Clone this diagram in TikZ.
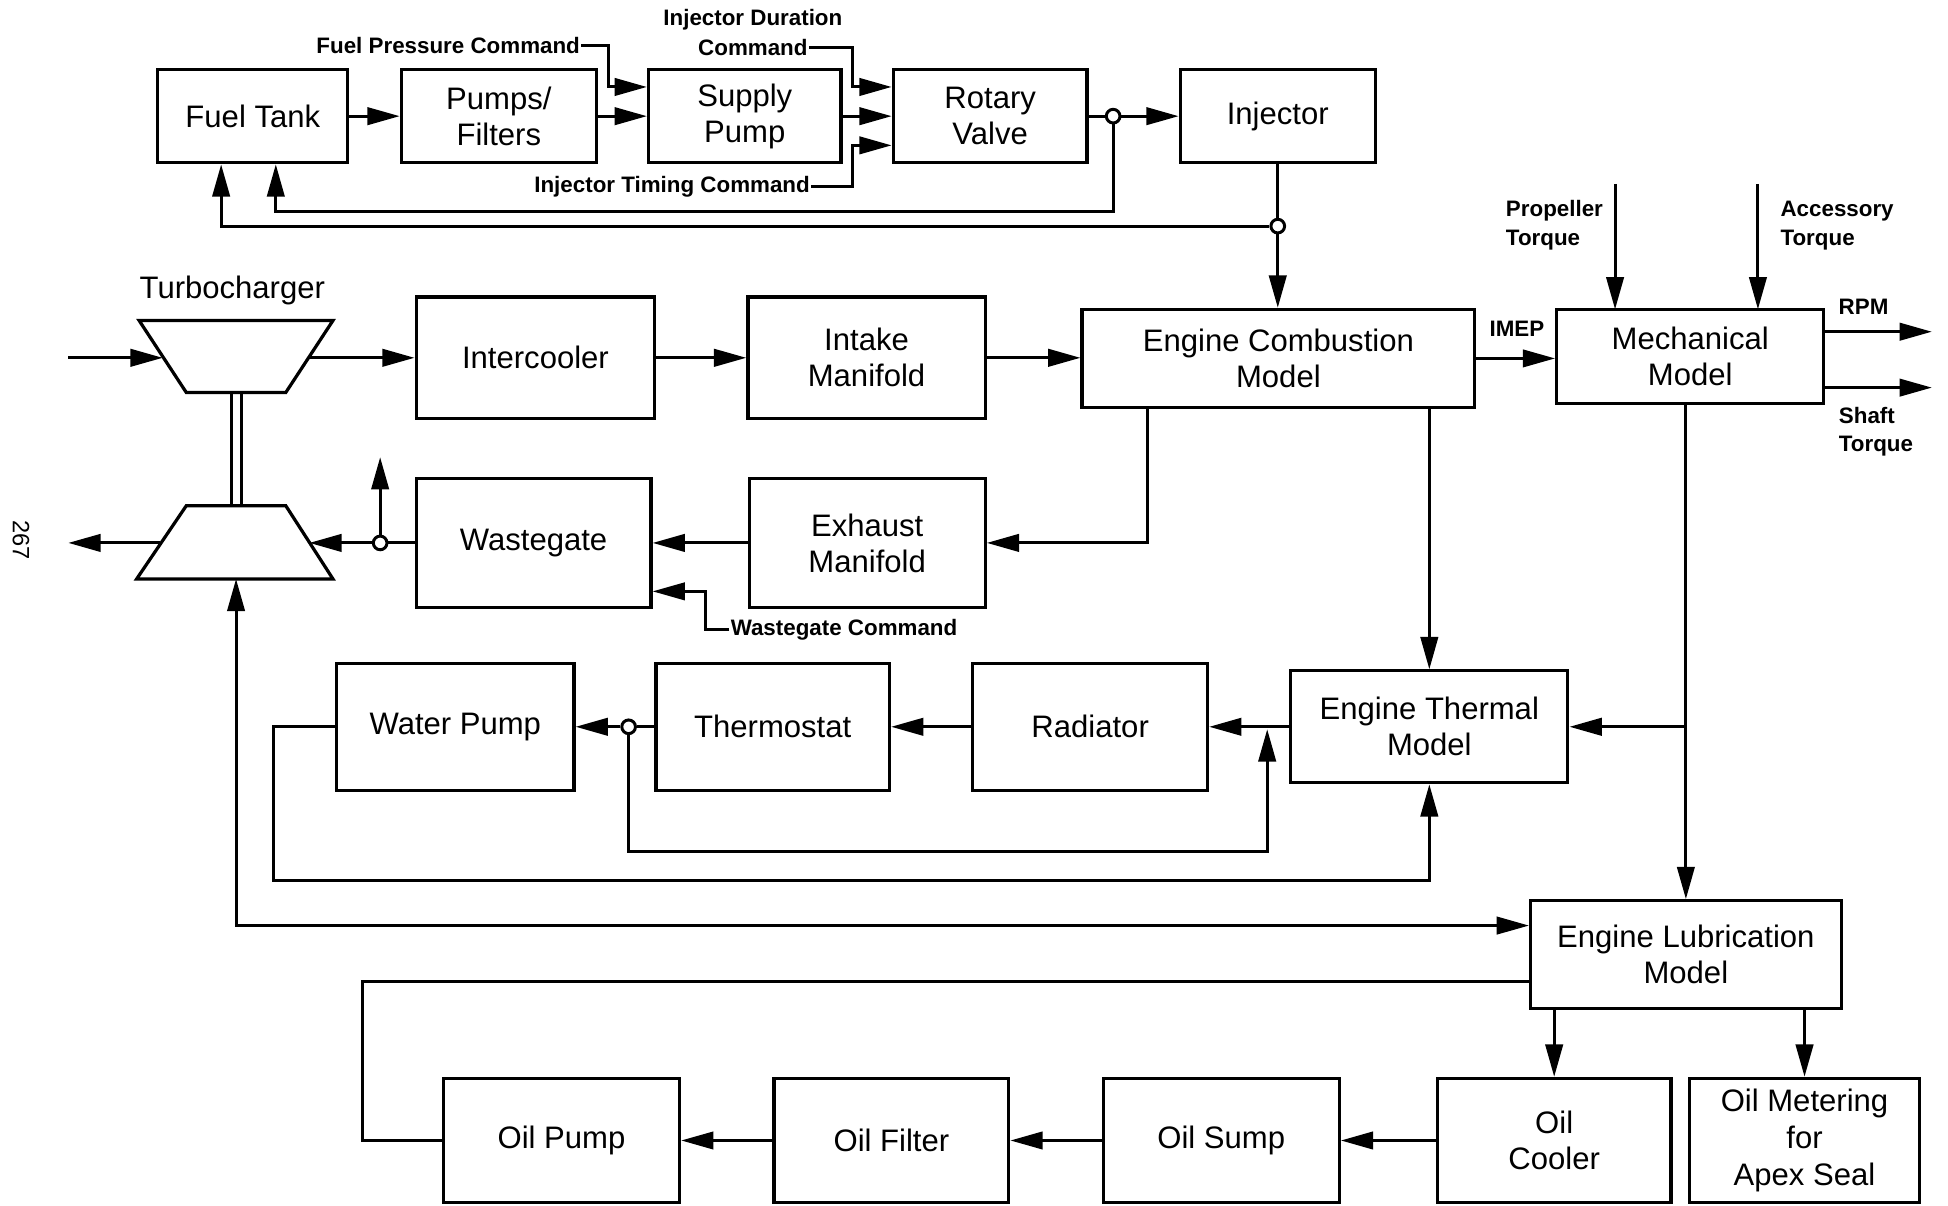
\documentclass[tikz,border=0pt]{standalone}
\usepackage{fontspec}
\setmainfont{Liberation Sans}
\usetikzlibrary{arrows.meta,calc}
\begin{document}
\begin{tikzpicture}[x=1pt,y=-1pt,
  box/.style={draw, line width=2.6pt, inner sep=0pt, align=center, font=\fontsize{25}{29}\selectfont},
  txt/.style={inner sep=1pt, font=\fontsize{25}{29}\selectfont},
  lbl/.style={inner sep=1pt, font=\bfseries\fontsize{18}{23}\selectfont},
  arr/.style={line width=2.4pt, -{Triangle[length=26pt,width=14pt]}},
  arrb/.style={line width=2.4pt, {Triangle[length=26pt,width=14pt]}-{Triangle[length=26pt,width=14pt]}},
  ln/.style={line width=2.4pt},
  junc/.style={circle, draw, line width=2.4pt, fill=white, inner sep=0pt, minimum size=11pt}
]
\useasboundingbox (0,0) rectangle (1568,970);

% ---------- top row ----------
\node[box, minimum width=153pt, minimum height=75pt] (fuel) at (203.5,93.5) {Fuel Tank};
\node[box, minimum width=157pt, minimum height=75pt] (pumps) at (401.5,93.5) {Pumps/\\Filters};
\node[box, minimum width=155pt, minimum height=75pt] (supply) at (599.5,93.5) {Supply\\Pump};
\node[box, minimum width=156pt, minimum height=75pt] (rotary) at (797,93.5) {Rotary\\Valve};
\node[box, minimum width=157pt, minimum height=75pt] (injector) at (1028.5,93.5) {Injector};

% ---------- middle rows ----------
\node[box, minimum width=192pt, minimum height=98pt] (inter) at (431,288) {Intercooler};
\node[box, minimum width=191pt, minimum height=98pt] (intake) at (697.5,288) {Intake\\Manifold};
\node[box, minimum width=316pt, minimum height=79pt] (ecomb) at (1029,288.5) {Engine Combustion\\Model};
\node[box, minimum width=215pt, minimum height=76pt] (mech) at (1360.5,287) {Mechanical\\Model};
\node[box, minimum width=189pt, minimum height=104pt] (waste) at (429.5,437) {Wastegate};
\node[box, minimum width=190pt, minimum height=104pt] (exhaust) at (698,437) {Exhaust\\Manifold};

\node[box, minimum width=191pt, minimum height=102pt] (water) at (366.5,585) {Water Pump};
\node[box, minimum width=188pt, minimum height=102pt] (thermo) at (622,585) {Thermostat};
\node[box, minimum width=189pt, minimum height=102pt] (radiator) at (877.5,585) {Radiator};
\node[box, minimum width=223pt, minimum height=90pt] (ethermal) at (1150.5,585) {Engine Thermal\\Model};

% ---------- bottom rows ----------
\node[box, minimum width=250pt, minimum height=87pt] (lube) at (1357,768.5) {Engine Lubrication\\Model};
\node[box, minimum width=188pt, minimum height=100pt] (oilcooler) at (1251,918) {Oil\\Cooler};
\node[box, minimum width=185pt, minimum height=100pt, font=\fontsize{25}{30}\selectfont] (oilmeter) at (1452.5,918) {Oil Metering\\for\\Apex Seal};
\node[box, minimum width=190pt, minimum height=100pt] (sump) at (983,918) {Oil Sump};
\node[box, minimum width=189pt, minimum height=100pt] (filter) at (717.5,918) {Oil Filter};
\node[box, minimum width=190pt, minimum height=100pt] (oilpump) at (452,918) {Oil Pump};

% ---------- turbocharger ----------
\node[txt] (turbolbl) at (187,234) {Turbocharger};
\draw[line width=2.6pt, line join=miter] (112,258) -- (268,258) -- (230,316) -- (150,316) -- cycle;
\draw[line width=2.6pt, line join=miter] (150,407) -- (230,407) -- (268,466) -- (110,466) -- cycle;
\draw[ln] (186,316) -- (186,407);
\draw[ln] (194,316) -- (194,407);
\coordinate (in0) at (55,288);
\coordinate (compL) at (131,288);
\coordinate (compR) at (249,288);
\coordinate (turbL) at (129,437);
\coordinate (turbR) at (249,437);
\coordinate (out0) at (55,437);
\coordinate (turbB) at (190,466);

% ---------- labels ----------
\node[lbl, anchor=east] (fpc) at (468,37) {Fuel Pressure Command};
\node[lbl] (idc1) at (606,16) {Injector Duration};
\node[lbl] (idc2) at (606,38) {Command};
\node[lbl, anchor=east] (itc) at (653,150) {Injector Timing Command};
\node[lbl] (imep) at (1221,265) {IMEP};
\node[lbl, align=left, anchor=west] (prop) at (1211,181.5) {Propeller\\Torque};
\node[lbl, align=left, anchor=west] (acc) at (1432,181.5) {Accessory\\Torque};
\node[lbl] (rpm) at (1500,247) {RPM};
\node[lbl, align=left, anchor=west] (shaft) at (1479,347.5) {Shaft\\Torque};
\node[lbl, anchor=west] (wgc) at (587,507) {Wastegate Command};
\node[inner sep=0pt, rotate=-90, font=\fontsize{19}{22}\selectfont] (page) at (17,435) {267};

% ---------- junction circles ----------
\node[junc] (c1) at (896,93.5) {};
\node[junc] (c2) at (1028.5,182) {};
\node[junc] (c3) at (306,437) {};
\node[junc] (c4) at (506,585) {};
\coordinate (j1) at (1020,585);

% ---------- fuel system connectors ----------
\draw[arr] (fuel) -- (pumps);
\draw[arr] (pumps) -- (supply);
\draw[arr] (supply) -- (rotary);
\draw[arr] (fpc.east) -- (490,37) -- (490,70) -- (supply.west |- 0,70);
\draw[arr] (idc2.east) -- (686,38) -- (686,70) -- (rotary.west |- 0,70);
\draw[arr] (itc.east) -- (686,150) -- (686,117) -- (rotary.west |- 0,117);
\draw[ln] (rotary) -- (c1);
\draw[arr] (c1) -- (injector);
\draw[arr] (c1.south) |- (222,170) -- (fuel.south -| 222,0);
\draw[arr] (c2.west) -- (178,182) -- (fuel.south -| 178,0);
\draw[ln] (injector) -- (c2);
\draw[arr] (c2) -- (c2 |- ecomb.north);

% ---------- air path ----------
\draw[arr] (in0) -- (compL);
\draw[arr] (compR) -- (inter);
\draw[arr] (inter) -- (intake);
\draw[arr] (intake.east) -- (intake.east -| ecomb.west);
\draw[arr] (ecomb.east) -- (ecomb.east -| mech.west);
\draw[arr] (1300,148) -- (1300,249);
\draw[arr] (1415,148) -- (1415,249);
\draw[arr] (mech.east |- 0,267) -- (1555,267);
\draw[arr] (mech.east |- 0,312) -- (1555,312);

% ---------- exhaust path ----------
\draw[arr] (ecomb.south -| 924,0) |- (exhaust.east);
\draw[arr] (exhaust) -- (waste);
\draw[arr] (wgc.west) -- (568,507) -- (568,476) -- (waste.east |- 0,476);
\draw[ln] (waste) -- (c3);
\draw[arr] (c3) -- (turbR);
\draw[arr] (c3) -- (306,368);
\draw[arr] (turbL) -- (out0);

% ---------- thermal ----------
\draw[arr] (ethermal.north |- ecomb.south) -- (ethermal.north);
\draw[arr] (lube.north |- mech.south) -- (lube.north);
\draw[arr] (lube.north |- ethermal.east) -- (ethermal.east);
\draw[arr] (ethermal) -- (radiator);
\draw[arr] (radiator) -- (thermo);
\draw[ln] (thermo) -- (c4);
\draw[arr] (c4) -- (water);
\draw[arr, shorten >=2pt] (c4.south) |- (1020,685) -- (j1);
\draw[arr] (water.west) -| (220,709) -| (ethermal.south);
\draw[arrb] (turbB) -- (190,745) -- (lube.west |- 0,745);

% ---------- lubrication ----------
\draw[ln] (lube.west |- 0,790) -| (292,918) -- (oilpump.west);
\draw[arr] (oilcooler.north |- lube.south) -- (oilcooler.north);
\draw[arr] (lube.south -| oilmeter.north) -- (oilmeter.north);
\draw[arr] (oilcooler) -- (sump);
\draw[arr] (sump) -- (filter);
\draw[arr] (filter) -- (oilpump);
\end{tikzpicture}
\end{document}
